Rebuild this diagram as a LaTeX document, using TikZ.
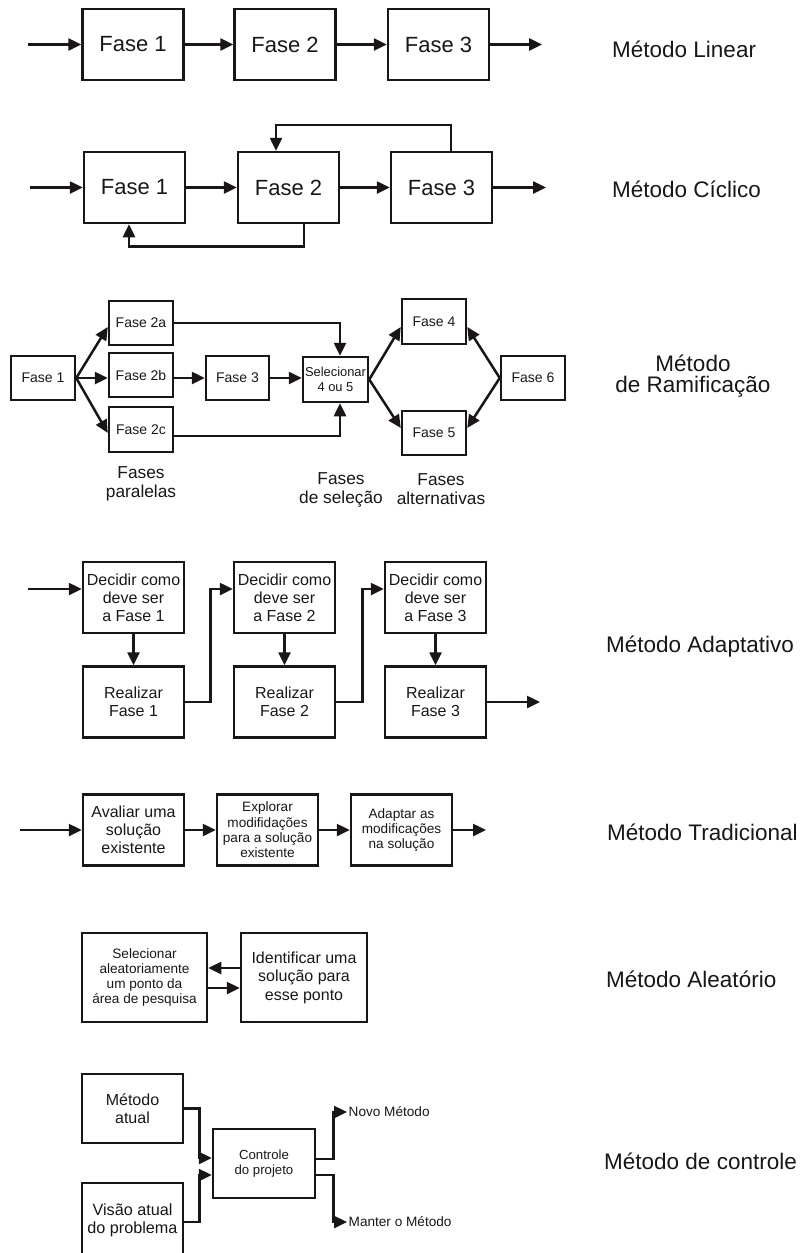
\documentclass[tikz,border=0pt]{standalone}
\usepackage{fontspec}
\setmainfont{Liberation Sans}
\usetikzlibrary{arrows.meta,calc}
\definecolor{ink}{RGB}{26,22,22}
\begin{document}
\begin{tikzpicture}[x=1pt,y=-1pt,
  every node/.style={text=ink},
  box/.style={draw=ink,line width=2.5pt,inner sep=0pt,align=center},
  arr/.style={draw=ink,line width=2.5pt,-{Triangle[length=13pt,width=12pt]}},
  lab/.style={anchor=west,inner sep=0pt,font=\fontsize{22.5}{21}\selectfont},
  fbig/.style={font=\fontsize{22}{26}\selectfont},
  fmid/.style={font=\fontsize{16}{18}\selectfont},
  fram/.style={font=\fontsize{14}{16}\selectfont},
  fsmall/.style={font=\fontsize{13.6}{15.3}\selectfont},
  fsel/.style={font=\fontsize{12.9}{15.6}\selectfont},
  fgrp/.style={font=\fontsize{17.3}{19}\selectfont,align=center,inner sep=0pt},
  bw/.style={minimum width=101pt,minimum height=71pt}]
\useasboundingbox (0,0) rectangle (802,1253);

% ---------------- Linear
\node[box,bw,fbig] (l1) at (133,44.5) {Fase 1};
\node[box,bw,fbig] (l2) at (285,44.5) {Fase 2};
\node[box,bw,fbig] (l3) at (438.5,44.5) {Fase 3};
\coordinate (lin) at (28,44.5);
\coordinate (lout) at (542,44.5);
\draw[arr] (lin) -- (l1);
\draw[arr] (l1) -- (l2);
\draw[arr] (l2) -- (l3);
\draw[arr] (l3) -- (lout);
\node[lab] (tl) at (612,49) {Método Linear};

% ---------------- Ciclico
\node[box,bw,fbig] (c1) at (134.5,187.5) {Fase 1};
\node[box,bw,fbig] (c2) at (288.5,187.5) {Fase 2};
\node[box,bw,fbig] (c3) at (441.5,187.5) {Fase 3};
\coordinate (cin) at (30,187.5);
\coordinate (cout) at (546,187.5);
\draw[arr] (cin) -- (c1);
\draw[arr] (c1) -- (c2);
\draw[arr] (c2) -- (c3);
\draw[arr] (c3) -- (cout);
\draw[arr] ([xshift=9.5pt]c3.north) -- ++(0,-26) -| ([xshift=-12.5pt]c2.north);
\draw[arr] ([xshift=15.5pt]c2.south) -- ++(0,22) -| ([xshift=-5.5pt]c1.south);
\node[lab] (tc) at (612,189) {Método Cíclico};

% ---------------- Ramificacao
\node[box,fram,minimum width=64pt,minimum height=44pt] (r1) at (43,378) {Fase 1};
\node[box,fram,minimum width=64pt,minimum height=44pt] (r2a) at (141,323) {Fase 2a};
\node[box,fram,minimum width=64pt,minimum height=44pt] (r2b) at (141,375) {Fase 2b};
\node[box,fram,minimum width=64pt,minimum height=45pt] (r2c) at (141,429.5) {Fase 2c};
\node[box,fram,minimum width=63pt,minimum height=44pt] (r3) at (237.5,378) {Fase 3};
\node[box,fsel,minimum width=65pt,minimum height=45pt] (rs) at (335.5,379.5) {Selecionar\\4 ou 5};
\node[box,fram,minimum width=64pt,minimum height=45pt] (r4) at (434,321.5) {Fase 4};
\node[box,fram,minimum width=64pt,minimum height=44pt] (r5) at (434,433) {Fase 5};
\node[box,fram,minimum width=64pt,minimum height=44pt] (r6) at (533,378) {Fase 6};
\draw[arr] (r1.east) -- ([yshift=-4pt]r2a.west);
\draw[arr] (r1.east) -- (r1.east -| r2b.west);
\draw[arr] (r1.east) -- ([yshift=-3.5pt]r2c.west);
\draw[arr] (r2a.east) -| ([xshift=4.5pt]rs.north);
\draw[arr] ([yshift=-6.5pt]r2c.east) -| ([xshift=4.5pt]rs.south);
\draw[arr] (r2b.east |- r3.west) -- (r3.west);
\draw[arr] (r3.east) -- (r3.east -| rs.west);
\draw[arr] (rs.east) -- ([yshift=-5.5pt]r4.west);
\draw[arr] (rs.east) -- ([yshift=5pt]r5.west);
\draw[arr] (r6.west) -- ([yshift=-5.5pt]r4.east);
\draw[arr] (r6.west) -- ([yshift=5pt]r5.east);
\node[fgrp] (g1) at (141,484) {Fases\\paralelas};
\node[fgrp] (g2) at (341,489.5) {Fases\\de seleção};
\node[fgrp] (g3) at (441,489.5) {Fases\\alternativas};
\node[lab,anchor=center,align=center] (tr) at (693,376) {Método\\de Ramificação};

% ---------------- Adaptativo
\node[box,bw,fmid] (d1) at (133.5,597.5) {Decidir como\\deve ser\\a Fase 1};
\node[box,bw,fmid] (z1) at (133.5,702) {Realizar\\Fase 1};
\node[box,bw,fmid] (d2) at (284.5,597.5) {Decidir como\\deve ser\\a Fase 2};
\node[box,bw,fmid] (z2) at (284.5,702) {Realizar\\Fase 2};
\node[box,bw,fmid] (d3) at (435.5,597.5) {Decidir como\\deve ser\\a Fase 3};
\node[box,bw,fmid] (z3) at (435.5,702) {Realizar\\Fase 3};
\coordinate (ain) at (28,589);
\coordinate (aout) at (540,702);
\draw[arr] (ain) -- (ain -| d1.west);
\draw[arr] (d1) -- (z1);
\draw[arr] (d2) -- (z2);
\draw[arr] (d3) -- (z3);
\draw[arr] (z1.east) -- ++(25,0) |- ([yshift=8.5pt]d2.west);
\draw[arr] (z2.east) -- ++(26,0) |- ([yshift=8.5pt]d3.west);
\draw[arr] (z3.east) -- (aout);
\node[lab] (ta) at (606,647) {Método Adaptativo};

% ---------------- Tradicional
\node[box,bw,fmid] (t1) at (133.5,830) {Avaliar uma\\solução\\existente};
\node[box,bw,fsmall] (t2) at (267.5,830) {Explorar\\modifidações\\para a solução\\existente};
\node[box,bw,fsmall] (t3) at (401.5,830) {Adaptar as\\modificações\\na solução};
\coordinate (tin) at (20,830);
\coordinate (tout) at (486,830);
\draw[arr] (tin) -- (t1);
\draw[arr] (t1) -- (t2);
\draw[arr] (t2) -- (t3);
\draw[arr] (t3) -- (tout);
\node[lab] (tt) at (607,832) {Método Tradicional};

% ---------------- Aleatorio
\node[box,fsmall,minimum width=125pt,minimum height=89pt] (as) at (144.5,977.5) {Selecionar\\aleatoriamente\\um ponto da\\área de pesquisa};
\node[box,minimum width=126pt,minimum height=89pt,font=\fontsize{16}{18.5}\selectfont] (ai) at (304,977.5) {Identificar uma\\solução para\\esse ponto};
\draw[arr] ([yshift=9.5pt]ai.west) -- ([yshift=9.5pt]as.east);
\draw[arr] ([yshift=-10.5pt]as.east) -- ([yshift=-10.5pt]ai.west);
\node[lab] (tal) at (606,979) {Método Aleatório};

% ---------------- Controle
\node[box,fmid,minimum width=101pt,minimum height=69pt] (ma) at (132.5,1108.5) {Método\\atual};
\node[box,minimum width=101pt,minimum height=75pt,font=\fontsize{16.2}{18}\selectfont] (va) at (132.5,1220.5) {Visão atual\\do problema};
\node[box,minimum width=102pt,minimum height=69pt,font=\fontsize{13.2}{15}\selectfont] (cp) at (264,1163.5) {Controle\\do projeto};
\node[anchor=west,inner sep=1.5pt,fsmall] (nm) at (347,1112) {Novo Método};
\node[anchor=west,inner sep=1.5pt,fsmall] (mm) at (347,1222) {Manter o Método};
\draw[arr] (ma.east) -- ++(15,0) |- ([yshift=5.5pt]cp.west);
\draw[arr] ([yshift=-1.5pt]va.east) -- ++(15,0) |- ([yshift=-11.5pt]cp.west);
\draw[arr] ([yshift=4.5pt]cp.east) -- ++(17,0) |- (nm.west);
\draw[arr] ([yshift=-11.5pt]cp.east) -- ++(17,0) |- (mm.west);
\node[lab] (tco) at (604,1161) {Método de controle};
\end{tikzpicture}
\end{document}
